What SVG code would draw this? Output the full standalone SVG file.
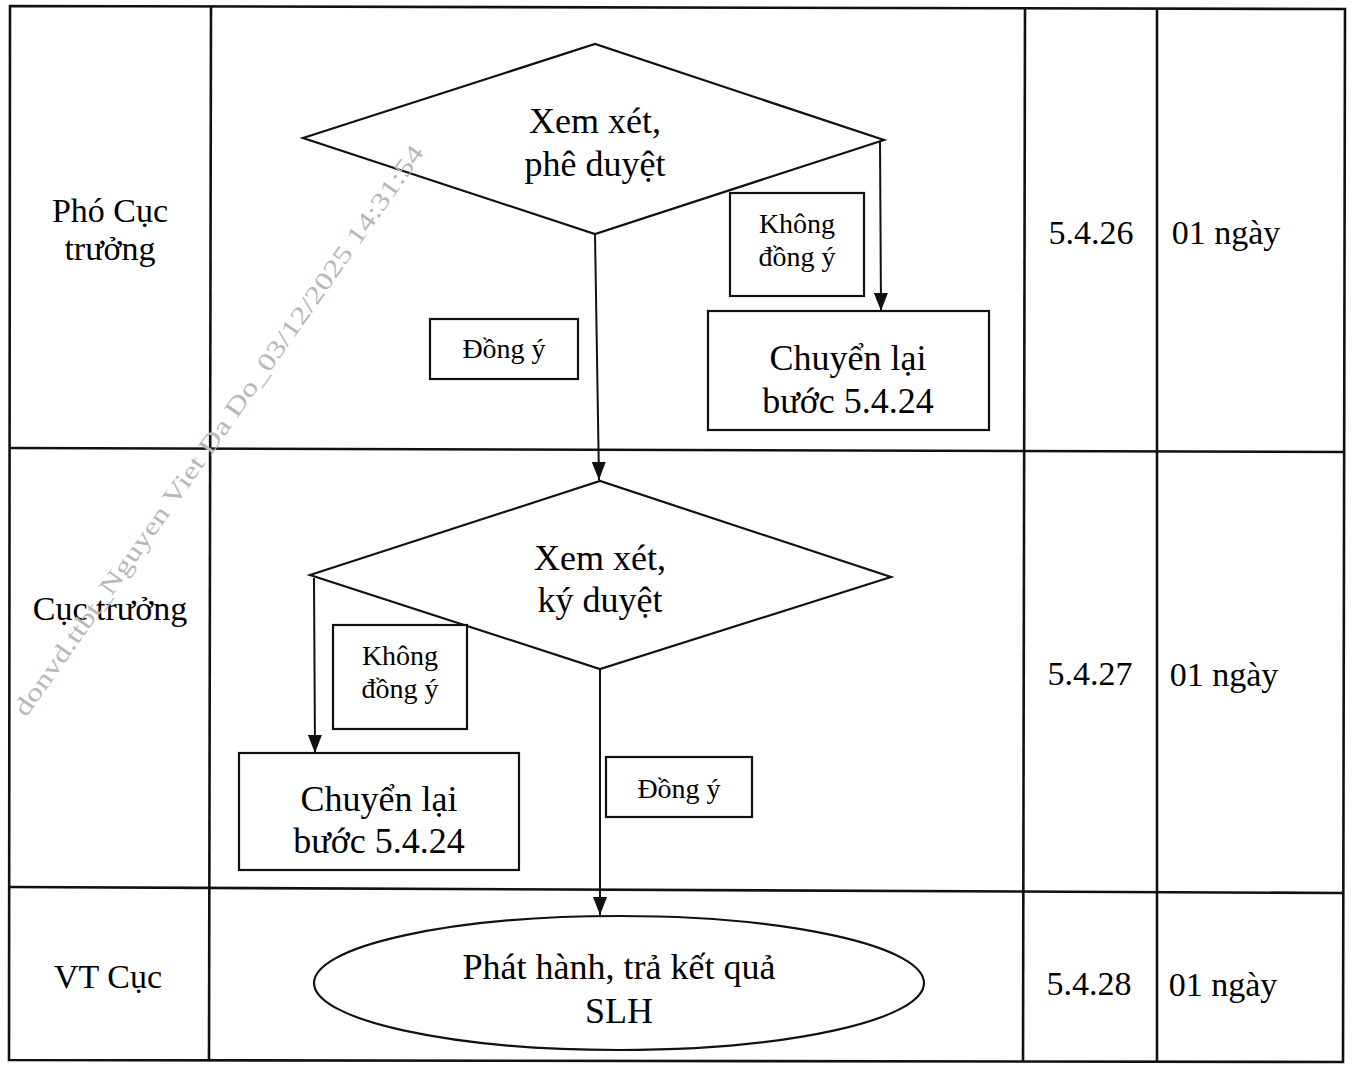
<svg xmlns="http://www.w3.org/2000/svg" width="1352" height="1065" viewBox="0 0 1352 1065">
<style>
.t{font-family:"Liberation Serif","Times New Roman",serif;fill:#000;text-anchor:middle}
.big{font-size:36px}
.lab{font-size:34px}
.sm{font-size:28px}
.shape{fill:#fff;stroke:#111;stroke-width:2.2}
.grid{fill:none;stroke:#111;stroke-width:2.6}
.conn{fill:none;stroke:#111;stroke-width:2}
.wm{font-family:"Liberation Serif","Times New Roman",serif;font-size:25px;fill:#b8b8b8}
</style>
<defs>
<marker id="arr" viewBox="0 0 18 14" refX="18" refY="7" markerWidth="18" markerHeight="14" markerUnits="userSpaceOnUse" orient="auto">
<path d="M0,0 L18,7 L0,14 Z" fill="#111"/>
</marker>
</defs>
<rect width="1352" height="1065" fill="#fff"/>
<g id="table">
<path class="grid" d="M10,6 L1345,9 L1343,1062 L9,1060 Z"/>
<path class="grid" d="M10,448 L1345,452"/>
<path class="grid" d="M9,887 L1343,893"/>
<path class="grid" d="M211,7 L209,1061"/>
<path class="grid" d="M1025,8 L1023,1062"/>
<path class="grid" d="M1157,8 L1157,1062"/>
</g>
<g id="lanes">
<text class="t lab" x="110" y="222">Phó Cục</text>
<text class="t lab" x="110" y="260">trưởng</text>
<text class="t lab" x="110" y="620">Cục trưởng</text>
<text class="t lab" x="108" y="988">VT Cục</text>
<text class="t lab" x="1091" y="244">5.4.26</text>
<text class="t lab" x="1226" y="244">01 ngày</text>
<text class="t lab" x="1090" y="685">5.4.27</text>
<text class="t lab" x="1224" y="686">01 ngày</text>
<text class="t lab" x="1089" y="995">5.4.28</text>
<text class="t lab" x="1223" y="996">01 ngày</text>
</g>
<g id="connectors">
<path class="conn" d="M595,234 L599,480" marker-end="url(#arr)"/>
<path class="conn" d="M880,140 L881,311" marker-end="url(#arr)"/>
<path class="conn" d="M314,578 L315,753" marker-end="url(#arr)"/>
<path class="conn" d="M600,669 L600,915" marker-end="url(#arr)"/>
</g>
<g id="d1">
<polygon class="shape" points="303,138 595,44 884,140 595,234"/>
<text class="t big" x="595" y="133">Xem xét,</text>
<text class="t big" x="595" y="176">phê duyệt</text>
</g>
<g id="lbl-dongy-1">
<rect class="shape" x="430" y="319" width="148" height="60"/>
<text class="t sm" x="504" y="358">Đồng ý</text>
</g>
<g id="lbl-khong-1">
<rect class="shape" x="730" y="193" width="134" height="103"/>
<text class="t sm" x="797" y="233">Không</text>
<text class="t sm" x="797" y="266">đồng ý</text>
</g>
<g id="back-1">
<rect class="shape" x="708" y="311" width="281" height="119"/>
<text class="t big" x="848" y="370">Chuyển lại</text>
<text class="t big" x="848" y="413">bước 5.4.24</text>
</g>
<g id="d2">
<polygon class="shape" points="310,575 600,481 891,577 600,669"/>
<text class="t big" x="600" y="570">Xem xét,</text>
<text class="t big" x="600" y="612">ký duyệt</text>
</g>
<g id="lbl-khong-2">
<rect class="shape" x="333" y="625" width="134" height="104"/>
<text class="t sm" x="400" y="665">Không</text>
<text class="t sm" x="400" y="698">đồng ý</text>
</g>
<g id="back-2">
<rect class="shape" x="239" y="753" width="280" height="117"/>
<text class="t big" x="379" y="811">Chuyển lại</text>
<text class="t big" x="379" y="853">bước 5.4.24</text>
</g>
<g id="lbl-dongy-2">
<rect class="shape" x="606" y="757" width="146" height="60"/>
<text class="t sm" x="679" y="798">Đồng ý</text>
</g>
<g id="end">
<ellipse class="shape" cx="619" cy="983" rx="305" ry="67"/>
<text class="t big" x="619" y="979">Phát hành, trả kết quả</text>
<text class="t big" x="619" y="1023">SLH</text>
</g>
<text class="wm" x="26" y="718" transform="rotate(-54.8 26 718)" textLength="692" lengthAdjust="spacingAndGlyphs">donvd.ttbt_Nguyen Viet Da Do_03/12/2025 14:31:54</text>
</svg>
